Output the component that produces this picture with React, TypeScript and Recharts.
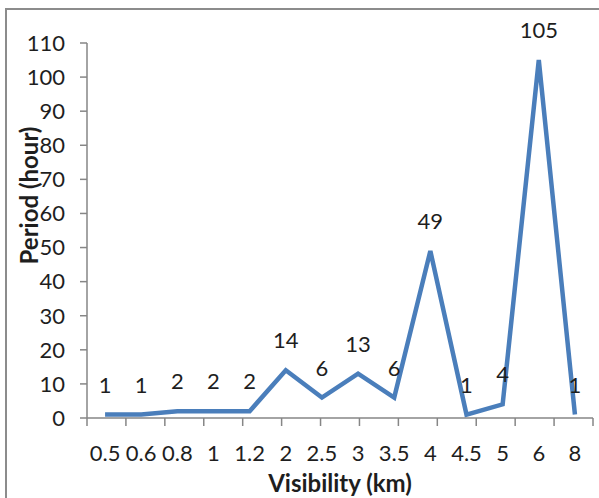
import { LineChart, Line, XAxis, YAxis, LabelList } from "recharts";

const visibility = ["0.5", "0.6", "0.8", "1", "1.2", "2", "2.5", "3", "3.5", "4", "4.5", "5", "6", "8"];
const hours = [1, 1, 2, 2, 2, 14, 6, 13, 6, 49, 1, 4, 105, 1];
const yTicks = [0, 10, 20, 30, 40, 50, 60, 70, 80, 90, 100, 110];
// category boundaries, used only for the tick marks between labels
const boundaries = [0, 1, 2, 3, 4, 5, 6, 7, 8, 9, 10, 11, 12, 13, 14];

const data = visibility.map((v, i) => ({ vis: v, hours: hours[i] }));

const FONT = "Lato, 'Open Sans', sans-serif";
const AXIS = "#868686";
const TEXT = "#1e1e1e";

export default function App() {
  return (
    <div
      style={{
        position: "fixed",
        left: 0,
        top: 0,
        width: 599,
        height: 498,
        background: "#fff",
        overflow: "hidden",
      }}
    >
      <div
        style={{
          position: "absolute",
          left: 5,
          top: 8,
          width: 700,
          height: 600,
          borderLeft: "2px solid #8c8c8c",
          borderTop: "2px solid #8c8c8c",
        }}
      />
      <LineChart
        width={599}
        height={498}
        data={data}
        margin={{ top: 43, right: 6, left: 0, bottom: 0 }}
        style={{ position: "absolute", left: 0, top: 0 }}
      >
        <XAxis
          xAxisId="b_cat"
          dataKey="vis"
          scale="band"
          interval={0}
          height={79}
          axisLine={false}
          tickLine={false}
          tickSize={0}
          tickMargin={26}
          tick={{ fill: TEXT, fontSize: 22, fontFamily: FONT }}
          label={{
            content: ({ viewBox }: any) => (
              <text
                x={viewBox.x + viewBox.width / 2}
                y={viewBox.y + 63}
                textAnchor="middle"
                dominantBaseline="central"
                fontSize={24}
                fontWeight="bold"
                fontFamily={FONT}
                fill={TEXT}
              >
                Visibility (km)
              </text>
            ),
          }}
        />
        <XAxis
          xAxisId="a_marks"
          type="number"
          domain={[0, boundaries.length - 1]}
          allowDataOverflow
          ticks={boundaries}
          interval={0}
          height={1}
          tickFormatter={() => ""}
          tickSize={8}
          stroke={AXIS}
          strokeWidth={1.5}
        />
        <YAxis
          width={87}
          domain={[0, 110]}
          ticks={yTicks}
          interval={0}
          tickSize={7}
          tickMargin={15}
          stroke={AXIS}
          strokeWidth={1.5}
          tick={{ fill: TEXT, fontSize: 22, fontFamily: FONT, stroke: "none" }}
          label={{
            content: ({ viewBox }: any) => {
              const cx = viewBox.x + 28;
              const cy = viewBox.y + viewBox.height / 2 - 35;
              return (
                <text
                  x={cx}
                  y={cy}
                  transform={`rotate(-90, ${cx}, ${cy})`}
                  textAnchor="middle"
                  dominantBaseline="central"
                  fontSize={24}
                  fontWeight="bold"
                  fontFamily={FONT}
                  fill={TEXT}
                >
                  Period (hour)
                </text>
              );
            },
          }}
        />
        <Line
          xAxisId="b_cat"
          type="linear"
          dataKey="hours"
          stroke="#4A7EBB"
          strokeWidth={4.5}
          dot={false}
          isAnimationActive={false}
        >
          <LabelList dataKey="hours" position="top" offset={22} fill={TEXT} fontSize={22} fontFamily={FONT} />
        </Line>
      </LineChart>
    </div>
  );
}
